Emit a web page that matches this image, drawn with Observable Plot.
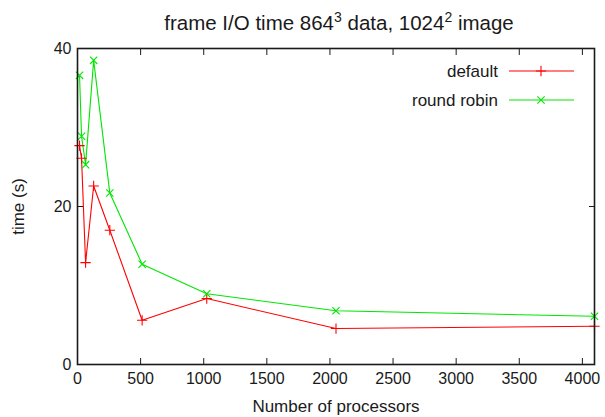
<!DOCTYPE html>
<html>
<head>
<meta charset="utf-8">
<script src="https://cdn.jsdelivr.net/npm/d3@7"></script>
<script src="https://cdn.jsdelivr.net/npm/@observablehq/plot@0.6"></script>
<style>
  html, body { margin: 0; padding: 0; background: #fff; }
  #chart { position: relative; width: 605px; height: 417px; }
  #chart svg text { font-family: "Liberation Sans", Arial, sans-serif; }
  #chart svg g[aria-label$="tick label"] text { font-size: 16px; fill: #1a1a1a; }
  #chart svg g[aria-label$="axis label"] text { font-size: 17px; fill: #1a1a1a; }
</style>
</head>
<body>
<div id="chart"></div>
<script>
const processors = [16, 32, 64, 128, 256, 512, 1024, 2048, 4096];
const defaultTimes = [27.7, 26.1, 12.9, 22.6, 17.0, 5.6, 8.35, 4.55, 4.85];
const roundRobinTimes = [36.6, 28.9, 25.3, 38.5, 21.7, 12.7, 8.95, 6.8, 6.1];
const xTicks = [0, 500, 1000, 1500, 2000, 2500, 3000, 3500, 4000];
const yTicks = [0, 20, 40];
const seriesNames = ["default", "round robin"];
const seriesColors = ["#ff0000", "#00e600"];
const seriesSymbols = ["plus", "times"];

const rows = [];
processors.forEach((p, i) => {
  rows.push({series: seriesNames[0], n: p, t: defaultTimes[i]});
  rows.push({series: seriesNames[1], n: p, t: roundRobinTimes[i]});
});

const plot = Plot.plot({
  width: 605,
  height: 417,
  marginLeft: 77,
  marginRight: 11,
  marginTop: 48,
  marginBottom: 53,
  style: {fontFamily: "Liberation Sans, Arial, sans-serif", fontSize: "16px", color: "#1a1a1a"},
  x: {domain: [0, 4096]},
  y: {domain: [0, 40]},
  color: {domain: seriesNames, range: seriesColors},
  symbol: {domain: seriesNames, range: seriesSymbols},
  marks: [
    Plot.axisX({anchor: "bottom", ticks: xTicks, tickSize: -6, tickPadding: 14, tickFormat: d3.format("d"), label: "Number of processors", labelAnchor: "center", labelArrow: "none", labelOffset: 47}),
    Plot.axisX({anchor: "top", ticks: xTicks, tickSize: -6, tickFormat: () => "", label: null}),
    Plot.axisY({anchor: "left", ticks: yTicks, tickSize: -6, tickPadding: 12, label: "time (s)", labelAnchor: "center", labelArrow: "none", labelOffset: 66}),
    Plot.axisY({anchor: "right", ticks: yTicks, tickSize: -6, tickFormat: () => "", label: null}),
    Plot.line(rows, {x: "n", y: "t", stroke: "series", z: "series", strokeWidth: 1.1}),
    Plot.dot(rows, {x: "n", y: "t", stroke: "series", symbol: "series", r: 3.4, strokeWidth: 1.1}),
    Plot.frame({stroke: "#1a1a1a", strokeWidth: 1.6})
  ]
});

document.getElementById("chart").appendChild(plot);

const svg = d3.select(plot);

// title with superscripts
const title = svg.append("text")
  .attr("x", 339).attr("y", 30)
  .attr("text-anchor", "middle")
  .attr("font-size", 20.5)
  .attr("fill", "#1a1a1a");
title.append("tspan").text("frame I/O time 864");
title.append("tspan").attr("dy", -8).attr("font-size", 14).text("3");
title.append("tspan").attr("dy", 8).text(" data, 1024");
title.append("tspan").attr("dy", -8).attr("font-size", 14).text("2");
title.append("tspan").attr("dy", 8).text(" image");

// legend
seriesNames.forEach((name, i) => {
  const yy = 71 + i * 29;
  const g = svg.append("g");
  g.append("text").attr("x", 498).attr("y", yy).attr("dy", "0.35em")
    .attr("text-anchor", "end").attr("font-size", 17).attr("fill", "#1a1a1a").text(name);
  g.append("line").attr("x1", 509).attr("x2", 574).attr("y1", yy).attr("y2", yy)
    .attr("stroke", seriesColors[i]).attr("stroke-width", 1.1);
  const sym = d3.symbol(seriesSymbols[i] === "plus" ? d3.symbolPlus : d3.symbolTimes, 3.4 * 3.4 * Math.PI)();
  g.append("path").attr("d", sym).attr("transform", `translate(541,${yy})`)
    .attr("fill", "none").attr("stroke", seriesColors[i]).attr("stroke-width", 1.1);
});
</script>
</body>
</html>
